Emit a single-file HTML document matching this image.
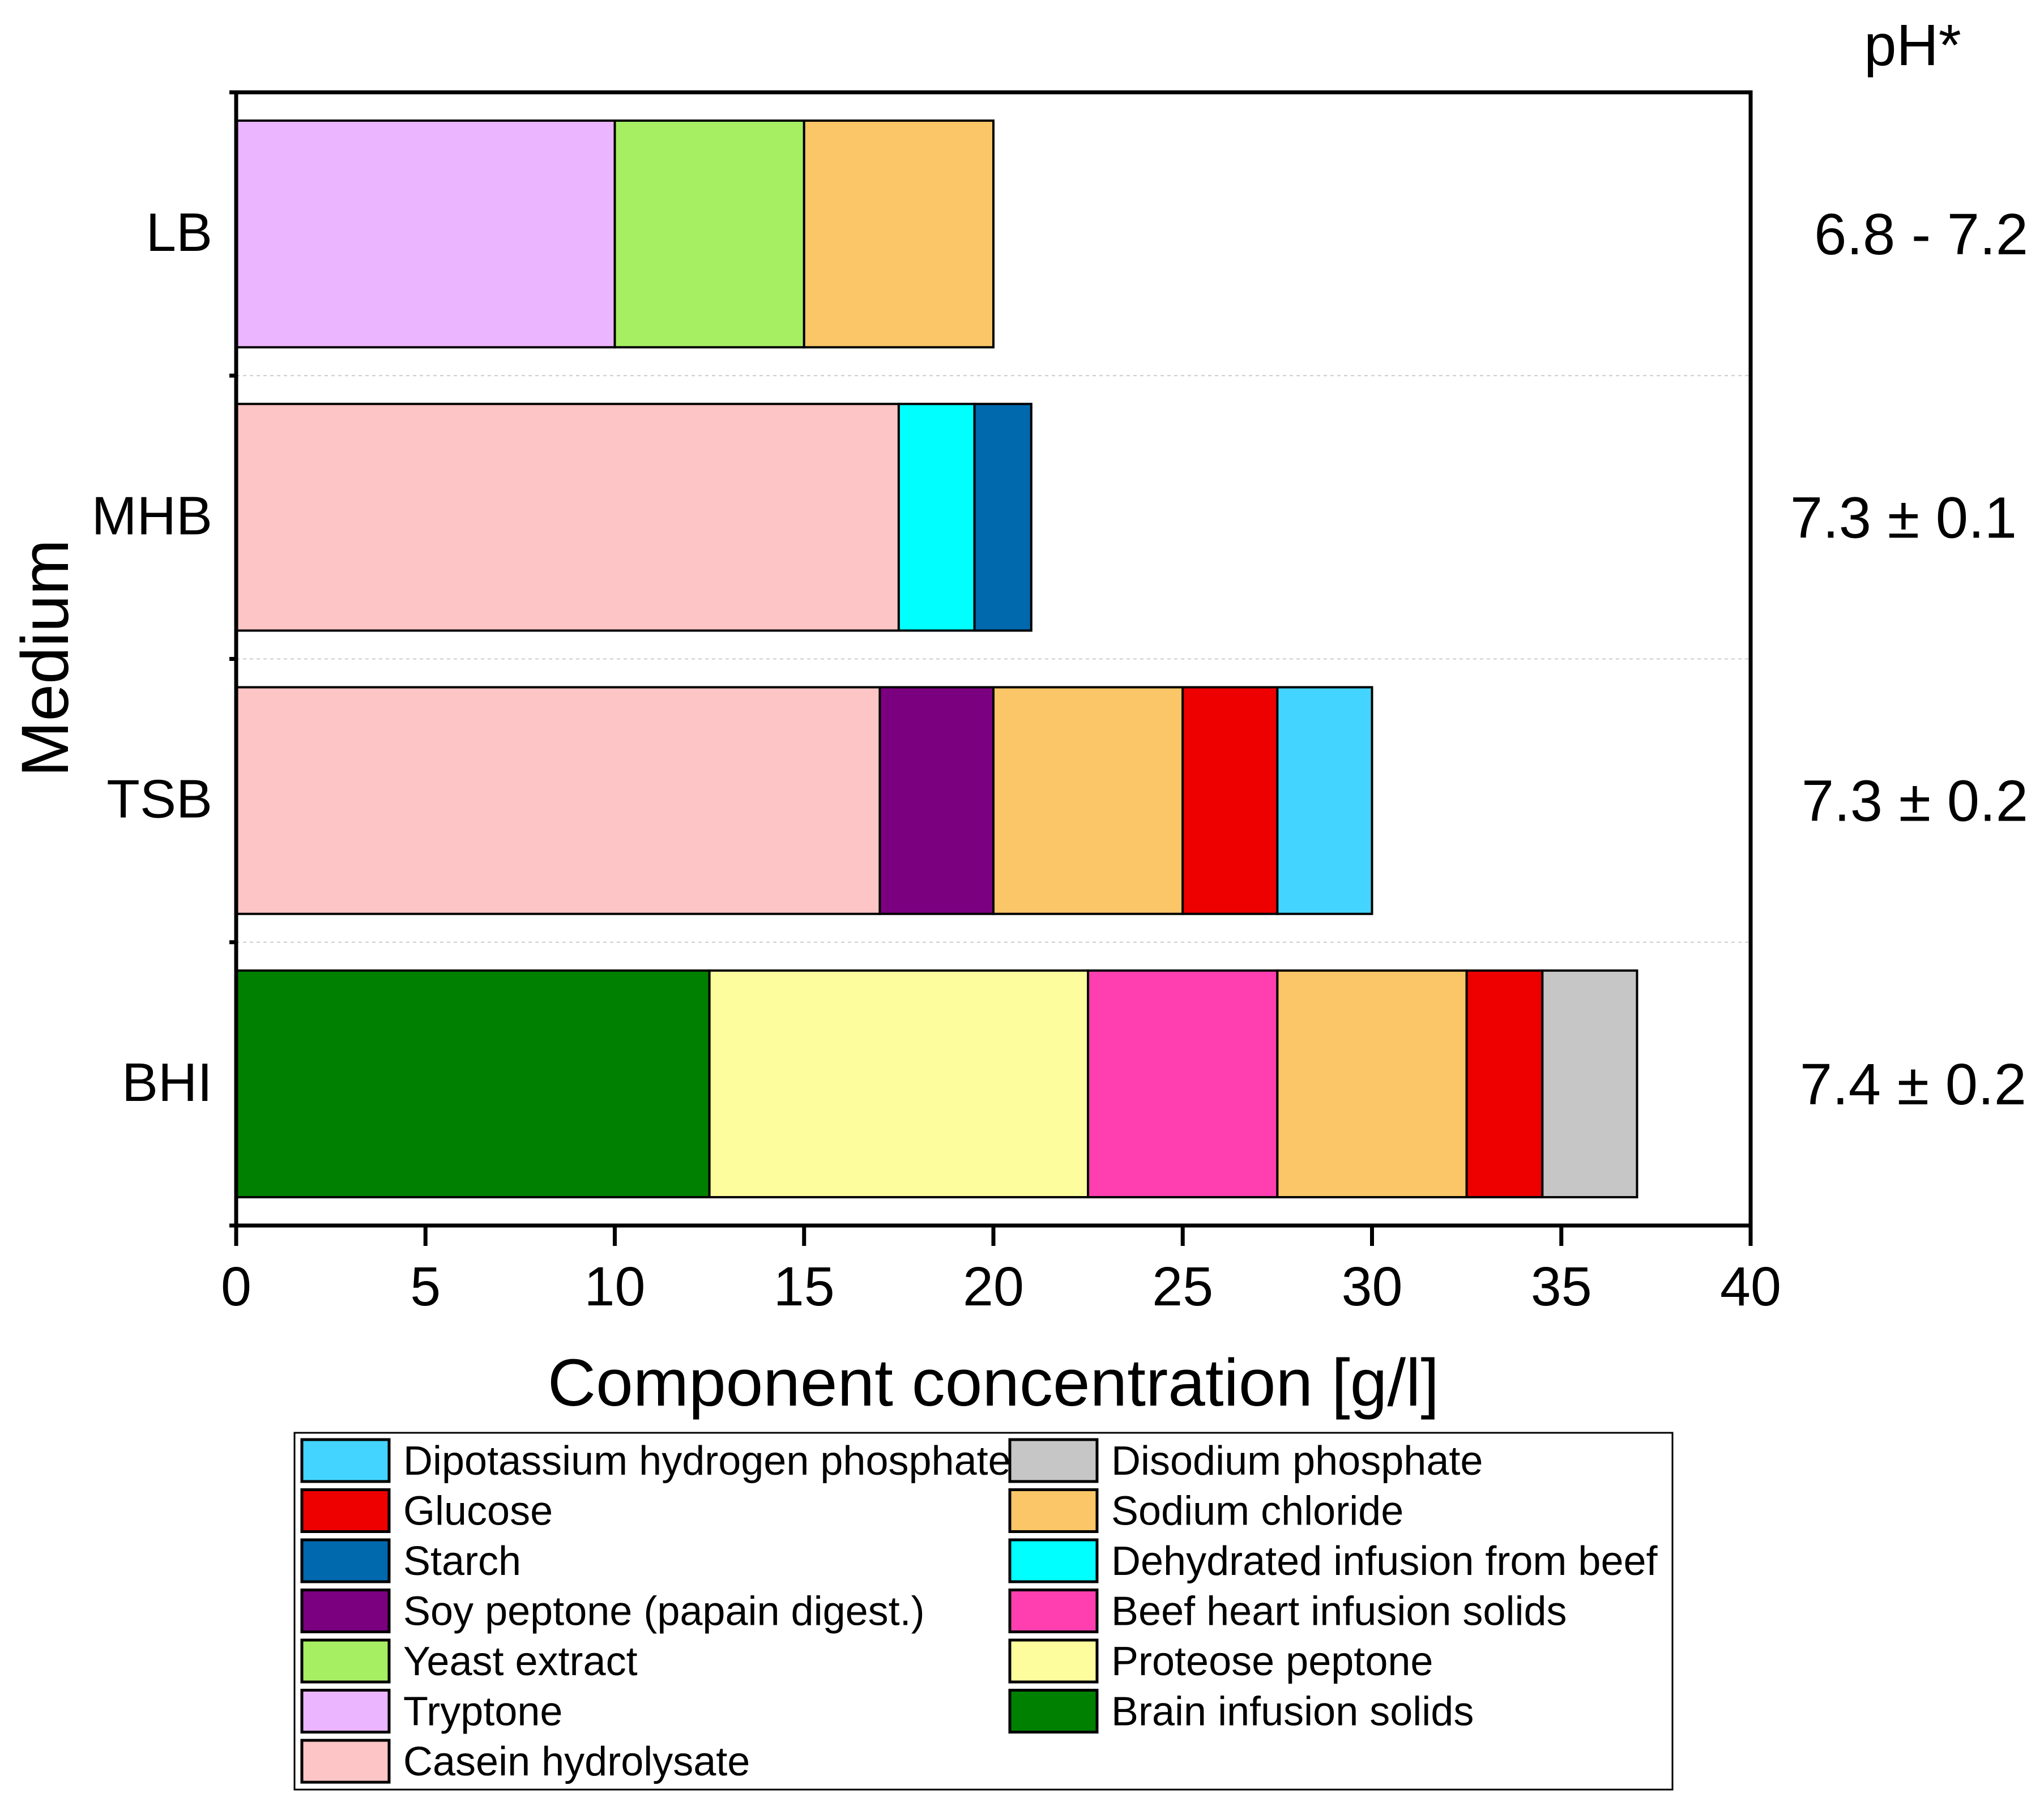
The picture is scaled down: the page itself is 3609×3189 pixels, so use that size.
<!DOCTYPE html>
<html><head><meta charset="utf-8"><style>
html,body{margin:0;padding:0;background:#fff}
svg{display:block;font-family:"Liberation Sans",Arial,sans-serif}
</style></head><body>
<svg id="chart" width="3609" height="3189" viewBox="0 0 3609 3189" xmlns="http://www.w3.org/2000/svg">
<rect x="0" y="0" width="3609" height="3189" fill="#fff"/>
<g id="grid"></g>
<g id="bars"></g>
<g id="axes"></g>
<g id="labels"></g>
<g id="legend"></g>
</svg>
<script>
const categories = ["LB","MHB","TSB","BHI"];
const phLabels = ["6.8 - 7.2","7.3 \u00b1 0.1","7.3 \u00b1 0.2","7.4 \u00b1 0.2"];
const components = ["Tryptone","Yeast extract","Sodium chloride","Casein hydrolysate","Dehydrated infusion from beef","Starch","Soy peptone (papain digest.)","Glucose","Dipotassium hydrogen phosphate","Brain infusion solids","Proteose peptone","Beef heart infusion solids","Disodium phosphate"];
const colors = {"Tryptone":"#EBB5FF","Yeast extract":"#A6EF62","Sodium chloride":"#FBC667","Casein hydrolysate":"#FDC5C5","Dehydrated infusion from beef":"#00FFFF","Starch":"#0068AD","Soy peptone (papain digest.)":"#7B0080","Glucose":"#EE0000","Dipotassium hydrogen phosphate":"#43D4FF","Brain infusion solids":"#008000","Proteose peptone":"#FEFD9E","Beef heart infusion solids":"#FF3FAF","Disodium phosphate":"#C6C6C6"};
const lbParts = ["Tryptone","Yeast extract","Sodium chloride"];
const lbValues = [10,5,5];
const mhbParts = ["Casein hydrolysate","Dehydrated infusion from beef","Starch"];
const mhbValues = [17.5,2,1.5];
const tsbParts = ["Casein hydrolysate","Soy peptone (papain digest.)","Sodium chloride","Glucose","Dipotassium hydrogen phosphate"];
const tsbValues = [17,3,5,2.5,2.5];
const bhiParts = ["Brain infusion solids","Proteose peptone","Beef heart infusion solids","Sodium chloride","Glucose","Disodium phosphate"];
const bhiValues = [12.5,10,5,5,2,2.5];
const xTicks = [0,5,10,15,20,25,30,35,40];
const legendCol1 = ["Dipotassium hydrogen phosphate","Glucose","Starch","Soy peptone (papain digest.)","Yeast extract","Tryptone","Casein hydrolysate"];
const legendCol2 = ["Disodium phosphate","Sodium chloride","Dehydrated infusion from beef","Beef heart infusion solids","Proteose peptone","Brain infusion solids"];

const NS="http://www.w3.org/2000/svg";
const L=417,R=3091,T=163,B=2164;
const xMin=0,xMax=40;
const xs=v=>L+(v-xMin)/(xMax-xMin)*(R-L);
const band=(B-T)/categories.length;
const yc=i=>T+band*(i+0.5);
const barH=band*0.8;
function mk(tag,attrs,parent){const e=document.createElementNS(NS,tag);for(const k in attrs)e.setAttribute(k,attrs[k]);parent.appendChild(e);return e;}
const gGrid=document.getElementById('grid'),gBars=document.getElementById('bars'),gAxes=document.getElementById('axes'),gLab=document.getElementById('labels'),gLeg=document.getElementById('legend');
const phRight=[3581,3561,3581,3578];

const stacks=[[lbParts,lbValues],[mhbParts,mhbValues],[tsbParts,tsbValues],[bhiParts,bhiValues]];
stacks.forEach((s,i)=>{
  let acc=0;
  s[0].forEach((p,j)=>{
    const x0=xs(acc),x1=xs(acc+s[1][j]);acc+=s[1][j];
    const r=mk('rect',{x:x0,y:yc(i)-barH/2,width:x1-x0,height:barH,fill:colors[p],stroke:'#000','stroke-width':4},gBars);
    
    
  });
  const t=mk('text',{x:375,y:yc(i)+30,'font-size':96,'text-anchor':'end'},gLab);
  t.textContent=categories[i];
  
  
  const ph=mk('text',{x:phRight[i],y:yc(i)+36,'font-size':103,'text-anchor':'end'},gLab);
  ph.textContent=phLabels[i];
  
  
  if(i>0){
    const g=mk('line',{x1:L,x2:R,y1:T+band*i,y2:T+band*i,stroke:'#ccc','stroke-width':2,'stroke-dasharray':'6,6'},gGrid);
    
    
  }
});
for(let i=0;i<=categories.length;i++){
  const tk=mk('line',{x1:L-12,x2:L,y1:T+band*i,y2:T+band*i,stroke:'#000','stroke-width':7},gAxes);
  
  
}
const frame=mk('rect',{x:L,y:T,width:R-L,height:B-T,fill:'none',stroke:'#000','stroke-width':7},gAxes);


xTicks.forEach(v=>{
  const tk=mk('line',{x1:xs(v),x2:xs(v),y1:B,y2:B+36,stroke:'#000','stroke-width':7},gAxes);
  
  
  const t=mk('text',{x:xs(v),y:2305,'font-size':97,'text-anchor':'middle'},gAxes);
  t.textContent=v;
  
  
});
const xt=mk('text',{x:1754,y:2482,'font-size':118,'text-anchor':'middle'},gLab);
xt.textContent='Component concentration [g/l]';


const yt=mk('text',{x:0,y:0,'font-size':118,'text-anchor':'middle',transform:'translate(120,1162) rotate(-90)'},gLab);
yt.textContent='Medium';


const pt=mk('text',{x:3377,y:115,'font-size':103,'text-anchor':'middle'},gLab);
pt.textContent='pH*';



const lb=mk('rect',{x:520,y:2530,width:2433,height:630,fill:'#fff',stroke:'#000','stroke-width':3},gLeg);


function legCol(list,sx,tx){
  list.forEach((p,k)=>{
    const y=2542+k*88.5;
    const s=mk('rect',{x:sx,y:y,width:154,height:74,fill:colors[p],stroke:'#000','stroke-width':5},gLeg);
    
    
    const t=mk('text',{x:tx,y:y+62,'font-size':72},gLeg);
    t.textContent=p;
    
    
  });
}
legCol(legendCol1,533,712);
legCol(legendCol2,1783,1962);
</script>
</body></html>
